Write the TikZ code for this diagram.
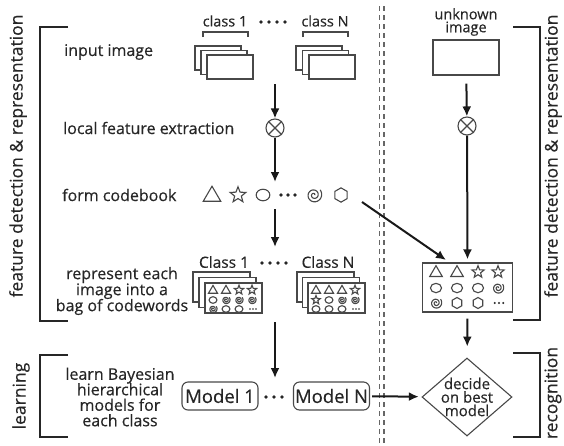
\documentclass[tikz,border=0pt]{standalone}
\usepackage{fontspec}
\setmainfont{Open Sans}[FakeBold=0.4]
\usetikzlibrary{shapes.geometric,arrows.meta}
\definecolor{ink}{HTML}{262626}
\definecolor{lin}{HTML}{484848}
\tikzset{
  x=1pt, y=-1pt,
  lbl/.style={font=\fontsize{16}{17}\selectfont, text=ink, inner sep=0},
  sml/.style={font=\fontsize{14.5}{15}\selectfont, text=ink, inner sep=0},
  vlbl/.style={font=\fontsize{17.5}{19}\selectfont, text=ink, rotate=90, inner sep=0},
  mdl/.style={font=\fontsize{18.5}{19}\selectfont, text=ink, draw=lin, line width=1.1pt, rounded corners=6pt, minimum width=76pt, minimum height=28pt, inner sep=0},
  brk/.style={line width=1.8pt, draw=black!85},
  arr/.style={line width=2pt, draw=black!90, -{Latex[length=10pt,width=9pt]}},
  img/.style={draw=lin, line width=1.1pt, fill=white},
  sym/.style={draw=lin, line width=1.1pt},
  otm/.style={circle, draw=lin, line width=1.1pt, minimum size=18pt, inner sep=0},
  sep/.style={draw=black!60, line width=1.1pt, dash pattern=on 5pt off 4pt},
  tri/.pic={\draw[sym] (-7,5)--(7,5)--(0,-7)--cycle;},
  starp/.pic={\draw[sym] (-90:7.5)--(-54:3.2)--(-18:7.5)--(18:3.2)--(54:7.5)--(90:3.2)--(126:7.5)--(162:3.2)--(198:7.5)--(234:3.2)--cycle;},
  circp/.pic={\draw[sym] (0,0) ellipse (6.5 and 5.5);},
  hexa/.pic={\draw[sym] (30:6.5)--(90:6.5)--(150:6.5)--(210:6.5)--(270:6.5)--(330:6.5)--cycle;},
  spir/.pic={\draw[sym] plot[domain=0:760,samples=60,smooth,variable=\t] ({-\t}:{0.6+6.4*\t/760});},
  tdots/.pic={\foreach \k in {-5,0,5} \fill[ink] (\k,0) circle (1.4);},
}
\begin{document}
\begin{tikzpicture}
\useasboundingbox (0,0) rectangle (564,445);

% separator
\draw[sep] (379.5,6) -- (379.5,445);
\draw[sep] (384,6) -- (384,445);

% left brackets and labels
\draw[brk] (68,27) -- (40,27) -- (40,321) -- (68,321);
\draw[brk] (68,355) -- (40,355) -- (40,437) -- (68,437);
\node[vlbl] (fdl) at (18,156) {feature detection \& representation};
\node[vlbl] (lrn) at (21,396) {learning};
% right brackets and labels
\draw[brk] (513,27) -- (540,27) -- (540,320) -- (513,320);
\draw[brk] (513,353) -- (540,353) -- (540,437) -- (513,437);
\node[vlbl] (fdr) at (553,156) {feature detection \& representation};
\node[vlbl] (rec) at (553,393) {recognition};

% step labels
\node[lbl, anchor=west] (t1) at (64,52) {input image};
\node[lbl, anchor=west] (t2) at (63,128) {local feature extraction};
\node[lbl, anchor=west] (t3) at (62,195) {form codebook};
\node[lbl, align=center] (t4) at (122,291) {represent each\\[-1pt]image into a\\[-1pt]bag of codewords};
\node[lbl, align=center] (t5) at (120,397) {learn Bayesian\\[-1.5pt]hierarchical\\[-1.5pt]models for\\[-1.5pt]each class};

% class labels top
\node[sml] (c1) at (225,21) {class 1};
\node[sml] (cN) at (325,21) {class N};
\foreach \x in {261,269,277,285} \fill[ink] (\x,22) circle (1.9);
\draw[lin, line width=1.1pt] (203,37) -- (203,32) -- (248,32) -- (248,37);
\draw[lin, line width=1.1pt] (303,37) -- (303,32) -- (348,32) -- (348,37);

% input image stacks
\foreach \d in {0,1,2} \draw[img] ({195+6*\d},{46+4.5*\d}) rectangle ++(46,24);
\foreach \d in {0,1,2} \draw[img] ({296+6.5*\d},{46+4.5*\d}) rectangle ++(46,24);

% left column flow
\coordinate (a0) at (275,84);
\node[otm] (ot1) at (275,128) {};
\draw[lin, line width=1.1pt] (ot1.north west) -- (ot1.south east) (ot1.north east) -- (ot1.south west);
\coordinate (cb) at (275,182);
\coordinate (cb2) at (275,209);
\coordinate (cls) at (275,247);
\coordinate (bg) at (275,322);
\coordinate (md) at (275,378);
\draw[arr] (a0) -- (ot1);
\draw[arr] (ot1) -- (cb);
\draw[arr] (cb2) -- (cls);
\draw[arr] (bg) -- (md);

% codebook
\pic[scale=1.25] at (212,195) {tri};
\pic[scale=1.1] at (238,195) {starp};
\pic[scale=1.05] at (263,195) {circp};
\foreach \x in {281,288,295} \fill[ink] (\x,195) circle (1.9);
\pic[scale=1.15] at (314,195) {spir};
\pic[scale=1.1] at (341,195) {hexa};

% class labels for bags
\node[sml, font=\fontsize{15.5}{16}\selectfont] (b1) at (224,262) {Class 1};
\node[sml, font=\fontsize{15.5}{16}\selectfont] (bN) at (328,262) {Class N};
\foreach \x in {262,270,278,286} \fill[ink] (\x,263) circle (1.9);

% bag stacks class 1
\foreach \d in {0,1,2} \draw[img] ({193+6*\d},{272+5.5*\d}) rectangle ++(57,30);
\pic[scale=.65] at (213,290) {tri}; \pic[scale=.65] at (226,290) {tri};
\pic[scale=.65] at (239,290) {starp}; \pic[scale=.65] at (252,290) {starp};
\pic[scale=.6] at (213,300) {circp}; \pic[scale=.6] at (226,300) {spir};
\pic[scale=.6] at (239,300) {spir}; \pic[scale=.6] at (252,300) {spir};
\pic[scale=.6] at (213,309) {spir}; \pic[scale=.6] at (226,309) {circp};
\pic[scale=.6] at (239,309) {circp}; \pic[scale=.6] at (253,309) {tdots};

% bag stacks class N
\foreach \d in {0,1,2} \draw[img] ({297+5.5*\d},{272+5.5*\d}) rectangle ++(57,30);
\pic[scale=.65] at (316,290) {tri}; \pic[scale=.65] at (329,290) {tri};
\pic[scale=.65] at (342,290) {tri}; \pic[scale=.65] at (355,290) {starp};
\pic[scale=.6] at (316,300) {starp}; \pic[scale=.6] at (329,300) {circp};
\pic[scale=.6] at (342,300) {spir}; \pic[scale=.6] at (355,300) {spir};
\pic[scale=.6] at (316,309) {circp}; \pic[scale=.6] at (329,309) {circp};
\pic[scale=.6] at (342,309) {circp}; \pic[scale=.6] at (356,309) {tdots};

% models
\node[mdl] (m1) at (220,396) {Model 1};
\node[mdl] (mN) at (331.5,396) {Model N};
\foreach \x in {266,274,282} \fill[ink] (\x,397) circle (1.9);

% right column
\node[sml, align=center] (unkt) at (466,22) {unknown\\[-2pt]image};
\node[img, minimum width=66pt, minimum height=35pt, inner sep=0] (unk) at (466,57.5) {};
\node[otm] (ot2) at (467,126) {};
\draw[lin, line width=1.1pt] (ot2.north west) -- (ot2.south east) (ot2.north east) -- (ot2.south west);
\draw[arr, shorten <=8pt] (unk) -- (ot2);

\node[img, minimum width=90pt, minimum height=49pt, inner sep=0] (bagR) at (467.5,287.5) {};
\draw[arr, shorten >=3pt] (ot2) -- (bagR.north);
\pic[scale=.9] at (436,272) {tri}; \pic[scale=.9] at (457,272) {tri};
\pic[scale=.85] at (478,272) {starp}; \pic[scale=.85] at (498,272) {starp};
\pic[scale=.85] at (436,288) {circp}; \pic[scale=.85] at (457,288) {circp};
\pic[scale=.85] at (478,288) {circp}; \pic[scale=.85] at (498,288) {spir};
\pic[scale=.85] at (436,303) {spir}; \pic[scale=.85] at (457,303) {hexa};
\pic[scale=.85] at (478,303) {hexa}; \pic[scale=.85] at (499,303) {tdots};

\coordinate (dg0) at (362,202);
\coordinate (dg1) at (446,260);
\draw[arr] (dg0) -- (dg1);

\node[diamond, draw=lin, line width=1.1pt, minimum width=90pt, minimum height=78pt, inner sep=0] (dec) at (467,397) {};
\node[lbl, font=\fontsize{15}{16}\selectfont, align=center] (dect) at (467,397) {decide\\[-2.5pt]on best\\[-2.5pt]model};
\draw[arr, shorten <=6pt, shorten >=11pt] (bagR) -- (dec);
\draw[arr, shorten <=2pt, shorten >=3pt] (mN) -- (dec);
\end{tikzpicture}
\end{document}
